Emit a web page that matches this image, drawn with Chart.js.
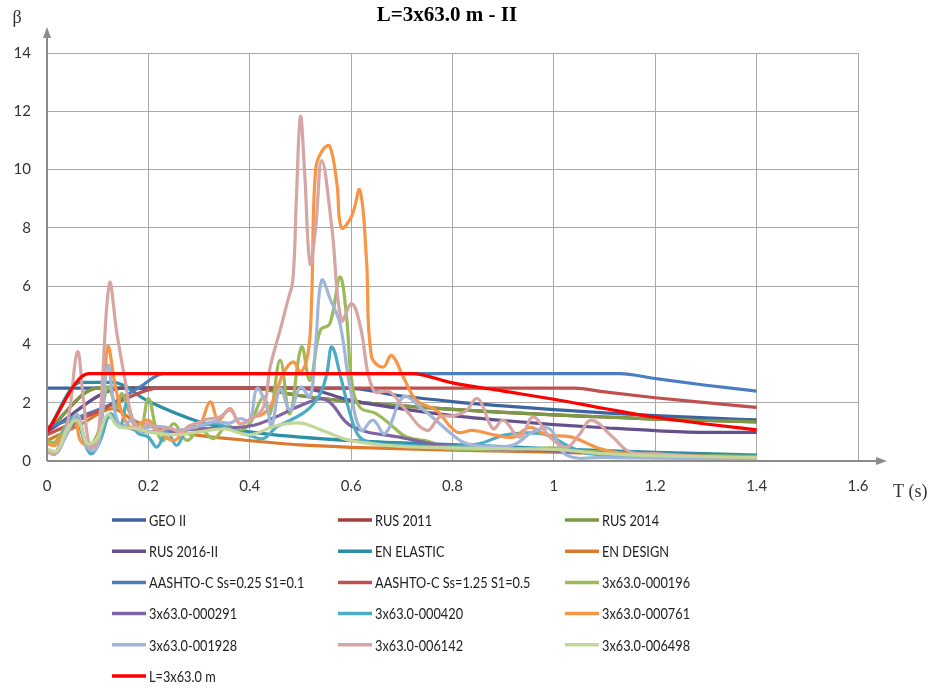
<!DOCTYPE html>
<html>
<head>
<meta charset="utf-8">
<script src="https://cdn.jsdelivr.net/npm/chart.js@4"></script>
<style>
  body { margin: 0; background: #fff; }
  canvas { display: block; }
</style>
</head>
<body>
<canvas id="myChart" width="931" height="689"></canvas>
<script>
// period T (s) and amplification factor beta

var geoT = [0, 0.59, 0.7, 0.8, 0.9, 1.0, 1.1, 1.2, 1.3, 1.4];
var geoB = [2.5, 2.5, 2.23, 2.04, 1.89, 1.76, 1.65, 1.56, 1.48, 1.41];

var rus11T = [0, 0.1, 0.4, 0.5, 0.6, 0.7, 0.8, 0.9, 1.0, 1.1, 1.2, 1.3, 1.4];
var rus11B = [1.0, 2.5, 2.5, 2.24, 2.04, 1.89, 1.77, 1.67, 1.58, 1.51, 1.44, 1.39, 1.34];

var rus14T = [0, 0.1, 0.4, 0.5, 0.6, 0.7, 0.8, 0.9, 1.0, 1.1, 1.2, 1.3, 1.4];
var rus14B = [1.0, 2.5, 2.5, 2.24, 2.04, 1.89, 1.77, 1.67, 1.58, 1.51, 1.44, 1.39, 1.34];

var rus16T = [0, 0.15, 0.5, 0.6, 0.7, 0.8, 0.9, 1.0, 1.1, 1.2, 1.3, 1.4];
var rus16B = [1.0, 2.5, 2.5, 2.08, 1.79, 1.56, 1.39, 1.25, 1.14, 1.04, 0.98, 0.98];

var enElT = [0, 0.066, 0.13, 0.2, 0.3, 0.4, 0.5, 0.6, 0.7, 0.8, 1.0, 1.2, 1.4];
var enElB = [1.0, 2.7, 2.7, 2.05, 1.35, 1.0, 0.82, 0.7, 0.62, 0.56, 0.42, 0.3, 0.2];

var enDsT = [0, 0.066, 0.13, 0.17, 0.2, 0.3, 0.4, 0.5, 0.6, 0.8, 1.0, 1.2, 1.4];
var enDsB = [0.7, 1.25, 1.8, 1.4, 1.2, 0.88, 0.7, 0.55, 0.47, 0.37, 0.3, 0.2, 0.13];

var aash1T = [0, 0.06, 0.12, 0.18, 0.23, 1.13, 1.2, 1.3, 1.4];
var aash1B = [1.15, 1.5, 1.9, 2.5, 3.0, 3.0, 2.83, 2.6, 2.4];

var aash2T = [0, 0.05, 0.1, 0.15, 0.22, 1.04, 1.1, 1.2, 1.3, 1.4];
var aash2B = [0.9, 1.3, 1.7, 2.1, 2.5, 2.5, 2.37, 2.17, 2.0, 1.84];

var r196T = [0, 0.016, 0.04, 0.06, 0.08, 0.1, 0.12, 0.138, 0.148, 0.164, 0.184, 0.2, 0.217, 0.23, 0.25, 0.276, 0.302, 0.328, 0.355, 0.38, 0.4, 0.427, 0.44, 0.46, 0.479, 0.502, 0.519, 0.539, 0.558, 0.578, 0.591, 0.601, 0.617, 0.65, 0.683, 0.709, 0.755, 0.788, 0.85, 0.9, 0.95, 1.0, 1.05, 1.1, 1.2, 1.3, 1.4];
var r196B = [0.7, 0.65, 1.28, 1.5, 0.54, 0.94, 2.54, 1.85, 2.31, 1.62, 1.05, 2.14, 1.0, 0.7, 1.28, 0.71, 1.1, 0.77, 1.2, 1.05, 1.28, 2.2, 1.62, 3.45, 1.62, 3.91, 2.77, 4.48, 4.71, 6.31, 4.94, 2.77, 1.85, 1.62, 1.17, 0.82, 0.66, 0.43, 0.4, 0.38, 0.4, 0.45, 0.35, 0.3, 0.22, 0.18, 0.15];

var r291T = [0, 0.02, 0.04, 0.06, 0.08, 0.1, 0.12, 0.15, 0.2, 0.3, 0.4, 0.45, 0.5, 0.55, 0.6, 0.7, 0.8, 1.0, 1.2, 1.4];
var r291B = [0.35, 0.3, 1.0, 1.3, 0.5, 0.6, 1.5, 1.2, 1.0, 1.1, 1.2, 1.5, 1.9, 2.1, 1.2, 0.8, 0.5, 0.35, 0.2, 0.12];

var r420T = [0, 0.016, 0.04, 0.056, 0.079, 0.089, 0.105, 0.125, 0.144, 0.158, 0.177, 0.2, 0.217, 0.236, 0.256, 0.276, 0.3, 0.335, 0.368, 0.4, 0.427, 0.453, 0.48, 0.513, 0.539, 0.552, 0.562, 0.581, 0.598, 0.617, 0.65, 0.7, 0.75, 0.8, 0.854, 0.9, 0.939, 0.985, 1.03, 1.07, 1.2, 1.4];
var r420B = [0.37, 0.25, 1.28, 1.5, 0.42, 0.25, 0.7, 1.62, 1.17, 1.97, 1.0, 0.82, 0.48, 1.0, 0.54, 1.1, 1.2, 1.28, 1.05, 0.88, 0.77, 1.17, 1.4, 1.74, 2.31, 3.0, 3.91, 2.77, 1.62, 0.82, 0.6, 0.55, 0.5, 0.5, 0.6, 0.88, 0.96, 0.9, 0.5, 0.25, 0.15, 0.1];

var r761T = [0, 0.016, 0.04, 0.056, 0.066, 0.085, 0.105, 0.12, 0.135, 0.151, 0.17, 0.185, 0.2, 0.223, 0.25, 0.276, 0.3, 0.322, 0.338, 0.361, 0.38, 0.407, 0.427, 0.445, 0.466, 0.486, 0.5, 0.515, 0.522, 0.53, 0.545, 0.558, 0.572, 0.581, 0.601, 0.617, 0.63, 0.64, 0.663, 0.68, 0.703, 0.729, 0.768, 0.808, 0.84, 0.887, 0.92, 0.952, 0.985, 1.035, 1.09, 1.14, 1.2, 1.3, 1.4];
var r761B = [0.6, 0.54, 1.1, 1.4, 0.7, 0.54, 1.05, 3.91, 2.54, 1.51, 1.1, 1.3, 1.4, 1.0, 0.7, 1.1, 1.2, 2.03, 1.4, 1.8, 1.28, 1.51, 1.62, 2.0, 3.0, 3.4, 3.05, 3.7, 5.5, 10.0, 10.7, 10.8, 9.5, 8.0, 8.4, 9.3, 7.0, 3.6, 3.22, 3.62, 2.88, 2.08, 1.74, 1.0, 1.05, 0.88, 0.82, 1.15, 0.9, 0.82, 0.43, 0.25, 0.2, 0.15, 0.1];

var r1928T = [0, 0.016, 0.04, 0.06, 0.079, 0.095, 0.105, 0.12, 0.135, 0.148, 0.168, 0.184, 0.2, 0.23, 0.26, 0.3, 0.33, 0.36, 0.38, 0.4, 0.414, 0.434, 0.443, 0.46, 0.48, 0.5, 0.519, 0.53, 0.542, 0.56, 0.578, 0.598, 0.62, 0.643, 0.667, 0.703, 0.736, 0.775, 0.8, 0.827, 0.873, 0.92, 0.959, 0.992, 1.025, 1.1, 1.2, 1.3, 1.4];
var r1928B = [0.31, 0.25, 0.94, 1.6, 0.48, 0.37, 0.94, 3.28, 1.62, 1.17, 1.4, 1.0, 1.17, 1.17, 1.05, 1.2, 1.35, 1.3, 1.45, 1.4, 2.48, 1.85, 1.17, 2.48, 1.74, 2.54, 2.2, 4.0, 6.2, 5.5, 4.71, 2.5, 1.05, 1.4, 0.94, 2.2, 1.85, 1.28, 0.9, 0.6, 0.5, 0.55, 1.0, 1.1, 0.2, 0.12, 0.1, 0.08, 0.07];

var r6142T = [0, 0.016, 0.04, 0.06, 0.072, 0.085, 0.1, 0.123, 0.138, 0.154, 0.17, 0.185, 0.2, 0.22, 0.24, 0.263, 0.28, 0.302, 0.32, 0.34, 0.362, 0.38, 0.4, 0.427, 0.44, 0.46, 0.475, 0.485, 0.492, 0.5, 0.508, 0.519, 0.53, 0.542, 0.562, 0.581, 0.601, 0.617, 0.644, 0.676, 0.703, 0.749, 0.775, 0.8, 0.825, 0.85, 0.88, 0.9, 0.933, 0.959, 0.992, 1.025, 1.05, 1.074, 1.116, 1.15, 1.2, 1.3, 1.4];
var r6142B = [0.37, 0.25, 1.28, 3.74, 2.08, 0.48, 0.7, 6.08, 4.37, 2.77, 1.28, 1.1, 1.3, 1.0, 1.15, 0.99, 1.2, 1.34, 1.45, 1.5, 1.74, 1.3, 1.4, 1.85, 3.2, 4.5, 5.5, 6.2, 9.0, 11.82, 10.0, 6.77, 8.0, 10.31, 8.0, 4.82, 5.4, 4.71, 2.42, 2.37, 1.85, 1.05, 1.51, 1.55, 1.7, 2.14, 1.11, 1.4, 0.82, 1.51, 0.82, 0.48, 0.9, 1.4, 0.82, 0.31, 0.25, 0.15, 0.1];

var r6498T = [0, 0.02, 0.04, 0.06, 0.08, 0.1, 0.12, 0.14, 0.18, 0.2, 0.25, 0.3, 0.35, 0.4, 0.45, 0.5, 0.55, 0.6, 0.7, 0.8, 0.9, 1.0, 1.1, 1.2, 1.4];
var r6498B = [0.4, 0.35, 1.1, 1.4, 0.6, 0.8, 1.6, 1.2, 1.1, 1.0, 0.9, 1.0, 1.1, 0.9, 1.2, 1.3, 1.0, 0.7, 0.5, 0.45, 0.42, 0.4, 0.25, 0.18, 0.12];

var lT = [0, 0.082, 0.72, 0.8, 0.9, 1.0, 1.1, 1.2, 1.3, 1.4];
var lB = [1.0, 3.0, 3.0, 2.68, 2.4, 2.12, 1.8, 1.5, 1.27, 1.07];

var xTicks = [0, 0.2, 0.4, 0.6, 0.8, 1, 1.2, 1.4, 1.6];
var yTicks = [0, 2, 4, 6, 8, 10, 12, 14];

var series = [
  ["GEO II", geoT, geoB, "#3c64a0", true],
  ["RUS 2011", rus11T, rus11B, "#a33f3c", true],
  ["RUS 2014", rus14T, rus14B, "#7b9a45", true],
  ["RUS 2016-II", rus16T, rus16B, "#65508e", true],
  ["EN ELASTIC", enElT, enElB, "#2d8fa4", true],
  ["EN DESIGN", enDsT, enDsB, "#db7a2f", true],
  ["AASHTO-C Ss=0.25 S1=0.1", aash1T, aash1B, "#4a7ec0", true],
  ["AASHTO-C Ss=1.25 S1=0.5", aash2T, aash2B, "#c0504d", true],
  ["3x63.0-000196", r196T, r196B, "#9bbb59", false],
  ["3x63.0-000291", r291T, r291B, "#8064a2", false],
  ["3x63.0-000420", r420T, r420B, "#4bacc6", false],
  ["3x63.0-000761", r761T, r761B, "#f79646", false],
  ["3x63.0-001928", r1928T, r1928B, "#a0b6d9", false],
  ["3x63.0-006142", r6142T, r6142B, "#d6a5a4", false],
  ["3x63.0-006498", r6498T, r6498B, "#c4d79b", false],
  ["L=3x63.0 m", lT, lB, "#ff0000", true]
];

var datasets = series.map(function (s, i) {
  var pts = s[1].map(function (t, k) { return {x: t, y: s[2][k]}; });
  var ds = {
    label: s[0],
    data: pts,
    borderColor: s[3],
    backgroundColor: s[3],
    borderWidth: 3.2,
    pointRadius: 0,
    fill: false,
    order: series.length - i   // last series on top, like excel
  };
  if (s[4]) {
    ds.cubicInterpolationMode = "monotone";
  } else {
    ds.tension = 0.4;
  }
  return ds;
});

var tickFont = { family: "Lato, sans-serif", size: 15 };

// title, axis arrows and the 3 column legend
var decor = {
  id: "decor",
  afterDraw: function (chart) {
    var c = chart.ctx;
    var a = chart.chartArea;
    c.save();

    c.fillStyle = "#000";
    c.textAlign = "center";
    c.textBaseline = "middle";
    c.font = "bold 21px 'Liberation Serif', serif";
    c.fillText("L=3x63.0 m - II", 447, 16);

    c.font = "18px 'Liberation Serif', serif";
    c.fillStyle = "#333";
    c.fillText("\u03b2", 17, 18);
    c.textAlign = "left";
    c.fillText("T (s)", 893, 492);

    // axes with arrow heads
    c.strokeStyle = "#8c8c8c";
    c.fillStyle = "#8c8c8c";
    c.lineWidth = 2;
    c.beginPath();
    c.moveTo(a.left, a.bottom);
    c.lineTo(a.left, 36);
    c.moveTo(a.left, a.bottom);
    c.lineTo(878, a.bottom);
    c.stroke();
    c.beginPath();
    c.moveTo(a.left, 27);
    c.lineTo(a.left - 4, 38);
    c.lineTo(a.left + 4, 38);
    c.closePath();
    c.fill();
    c.beginPath();
    c.moveTo(887, a.bottom);
    c.lineTo(876, a.bottom - 4);
    c.lineTo(876, a.bottom + 4);
    c.closePath();
    c.fill();

    // legend, text squeezed a little to get the narrow office font width
    var colX = [112, 338, 565];
    c.font = "15px Lato, sans-serif";
    c.textAlign = "left";
    c.textBaseline = "middle";
    chart.data.datasets.forEach(function (ds, i) {
      var x = colX[i % 3];
      var y = 520 + Math.floor(i / 3) * 31.2;
      c.strokeStyle = ds.borderColor;
      c.lineWidth = 3.5;
      c.beginPath();
      c.moveTo(x, y);
      c.lineTo(x + 34, y);
      c.stroke();
      c.save();
      c.translate(x + 37, y + 1);
      c.scale(0.85, 1);
      c.fillStyle = "#222";
      c.fillText(ds.label, 0, 0);
      c.restore();
    });
    c.restore();
  }
};

var ctx = document.getElementById("myChart").getContext("2d");
var myChart = new Chart(ctx, {
  type: "line",
  data: { datasets: datasets },
  options: {
    responsive: false,
    animation: false,
    layout: { padding: { left: 0, right: 73, top: 53, bottom: 188 } },
    plugins: {
      legend: { display: false },
      tooltip: { enabled: false }
    },
    scales: {
      x: {
        type: "linear",
        min: 0,
        max: 1.6,
        afterFit: function (scale) { scale.height = 40; },
        afterBuildTicks: function (scale) {
          scale.ticks = xTicks.map(function (v) { return {value: v}; });
        },
        ticks: {
          padding: 16,
          color: "#333",
          font: tickFont,
          callback: function (v) { return String(+v.toFixed(1)); }
        },
        grid: { color: "#a8a8a8", lineWidth: 1, drawTicks: false },
        border: { display: false }
      },
      y: {
        min: 0,
        max: 14,
        afterFit: function (scale) { scale.width = 47; },
        afterBuildTicks: function (scale) {
          scale.ticks = yTicks.map(function (v) { return {value: v}; });
        },
        ticks: {
          padding: 16,
          color: "#333",
          font: tickFont
        },
        grid: { color: "#a8a8a8", lineWidth: 1, drawTicks: false },
        border: { display: false }
      }
    }
  },
  plugins: [decor]
});
</script>
</body>
</html>
